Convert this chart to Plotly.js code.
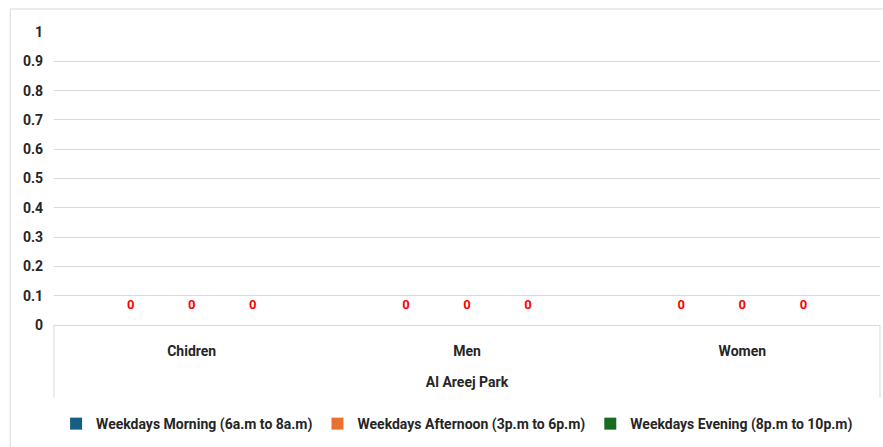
<!DOCTYPE html>
<html>
<head>
<meta charset="utf-8">
<script src="https://cdn.plot.ly/plotly-3.0.1.min.js"></script>
<style>
  html, body { margin: 0; padding: 0; background: #ffffff; }
  #chart { width: 883px; height: 447px; }
</style>
</head>
<body>
<div id="chart"></div>
<script>
// Visitor counts at Al Areej Park by group and weekday time slot
const park = "Al Areej Park";
const groups = ["Chidren", "Men", "Women"];
const seriesNames = [
  "Weekdays Morning (6a.m to 8a.m)",
  "Weekdays Afternoon (3p.m to 6p.m)",
  "Weekdays Evening (8p.m to 10p.m)"
];
const morning = [0, 0, 0];
const afternoon = [0, 0, 0];
const evening = [0, 0, 0];
const seriesColors = ["#156082", "#E97132", "#196B24"];
const yTicks = [0, 0.1, 0.2, 0.3, 0.4, 0.5, 0.6, 0.7, 0.8, 0.9, 1];

const FONT = "Roboto, 'Liberation Sans', sans-serif";
const seriesValues = [morning, afternoon, evening];
const GRID = "#d9d9d9";
const TEXT = "#262626";

const traces = [];
seriesValues.forEach((vals, i) => {
  traces.push({
    type: "bar",
    name: seriesNames[i],
    x: groups,
    y: vals,
    marker: { color: seriesColors[i] },
    offsetgroup: "g" + i,
    hoverinfo: "skip"
  });
});
// value labels above each bar
seriesValues.forEach((vals, i) => {
  traces.push({
    type: "scatter",
    mode: "markers+text",
    x: groups,
    y: vals,
    text: vals.map(v => String(v)),
    textposition: "top center",
    textfont: { family: FONT, size: 13, color: "#ff0000", weight: "bold" },
    marker: { size: 19, opacity: 0 },
    offsetgroup: "g" + i,
    showlegend: false,
    hoverinfo: "skip",
    cliponaxis: false
  });
});

// frame around the whole chart plus the box under the category axis
const shapes = [
  {
    type: "rect", xref: "paper", yref: "paper",
    x0: -0.053, x1: 1.01, y0: -0.45, y1: 1.0785,
    line: { color: GRID, width: 1 }, fillcolor: "rgba(0,0,0,0)", layer: "below"
  },
  {
    type: "line", xref: "paper", yref: "paper",
    x0: 0, x1: 0, y0: 0, y1: -0.248,
    line: { color: GRID, width: 1 }
  },
  {
    type: "line", xref: "paper", yref: "paper",
    x0: 1, x1: 1, y0: 0, y1: -0.248,
    line: { color: GRID, width: 1 }
  }
];

const layout = {
  width: 883,
  height: 447,
  margin: { l: 54, r: 3, t: 32, b: 122 },
  paper_bgcolor: "#ffffff",
  plot_bgcolor: "#ffffff",
  barmode: "group",
  scattermode: "group",
  bargap: 0.335,
  bargroupgap: 0,
  font: { family: FONT, size: 14, color: TEXT, weight: "bold" },
  showlegend: true,
  legend: {
    orientation: "h",
    x: 0.488, xanchor: "center",
    y: -0.338, yanchor: "middle",
    font: { family: FONT, size: 14, color: TEXT, weight: "bold" },
    itemwidth: 30,
    traceorder: "normal"
  },
  xaxis: {
    type: "category",
    showgrid: false,
    showline: true,
    linecolor: GRID,
    linewidth: 1,
    ticks: "",
    ticklabelstandoff: 13,
    tickfont: { family: FONT, size: 14, color: TEXT, weight: "bold" },
    title: {
      text: park,
      standoff: 19,
      font: { family: FONT, size: 14, color: TEXT, weight: "bold" }
    },
    fixedrange: true
  },
  yaxis: {
    range: [0, 1],
    tickvals: yTicks,
    ticktext: yTicks.map(v => String(v)),
    showgrid: true,
    gridcolor: GRID,
    gridwidth: 1,
    zeroline: false,
    showline: false,
    ticks: "",
    ticklabelstandoff: 10,
    tickfont: { family: FONT, size: 14, color: TEXT, weight: "bold" },
    fixedrange: true
  },
  shapes: shapes
};

Plotly.newPlot("chart", traces, layout, { displayModeBar: false, staticPlot: true });
</script>
</body>
</html>
